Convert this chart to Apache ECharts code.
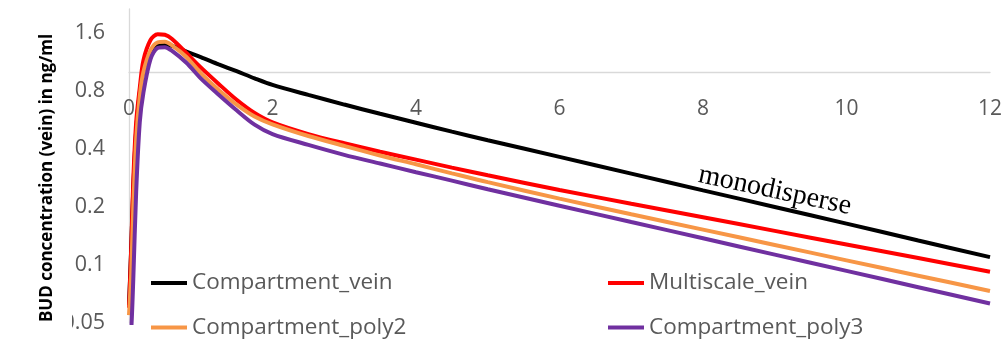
<!DOCTYPE html>
<html><head><meta charset="utf-8">
<script src="https://cdn.jsdelivr.net/npm/echarts@6/dist/echarts.min.js"></script>
<style>html,body{margin:0;padding:0;background:#fff}#c{width:1004px;height:339px}</style>
</head><body><div id="c"></div>
<script>
// time in hours
const times = [0, 0.03, 0.06, 0.1, 0.15, 0.2, 0.3, 0.4, 0.5, 0.6, 0.8, 1.0, 1.25, 1.5, 1.75, 2, 2.5, 3, 3.5, 4, 4.5, 5, 6, 7, 8, 9, 10, 11, 12];
// BUD concentration (vein) in ng/ml
const compartmentVein = [0.062, 0.12, 0.25, 0.5, 0.78, 1.02, 1.28, 1.39, 1.40, 1.37, 1.28, 1.20, 1.10, 1.013, 0.93, 0.86, 0.763, 0.68, 0.609, 0.547, 0.492, 0.444, 0.364, 0.298, 0.244, 0.20, 0.164, 0.134, 0.1098];
const multiscaleVein = [0.06, 0.12, 0.277, 0.55, 0.83, 1.15, 1.47, 1.575, 1.565, 1.49, 1.26, 1.06, 0.87, 0.72, 0.615, 0.55, 0.478, 0.428, 0.387, 0.352, 0.32, 0.292, 0.245, 0.208, 0.177, 0.1503, 0.1278, 0.1086, 0.0923];
const compartmentPoly2 = [0.055, 0.09, 0.2, 0.45, 0.75, 1.0, 1.3, 1.43, 1.44, 1.38, 1.2, 0.99, 0.81, 0.68, 0.59, 0.537, 0.467, 0.415, 0.37, 0.333, 0.299, 0.269, 0.221, 0.1834, 0.1526, 0.127, 0.1057, 0.088, 0.0733];
const compartmentPoly3 = [0.035, 0.045, 0.085, 0.24, 0.55, 0.78, 1.17, 1.34, 1.35, 1.29, 1.12, 0.93, 0.765, 0.635, 0.535, 0.478, 0.42, 0.373, 0.336, 0.303, 0.274, 0.247, 0.203, 0.167, 0.1376, 0.1132, 0.0932, 0.0767, 0.0631];
const seriesNames = ['Compartment_vein', 'Multiscale_vein', 'Compartment_poly2', 'Compartment_poly3'];
const seriesColors = ['#000000', '#FF0000', '#F79646', '#7030A0'];
const yTickLabels = [0.05, 0.1, 0.2, 0.4, 0.8, 1.6];
const xTickLabels = [0, 2, 4, 6, 8, 10, 12];
const yAxisMin = 0.05, yAxisMax = 2.13, xAxisCross = 1;
const yTitle = 'BUD concentration (vein) in ng/ml';
const annotation = { text: 'monodisperse', t: 9.0, conc: 0.243 };

const allValues = [compartmentVein, multiscaleVein, compartmentPoly2, compartmentPoly3];
// base-2 logarithmic axis (as the original), horizontal axis crossing at 1
const lg = v => Math.log2(v);
const GRID = { left: 129, right: 14, top: 9, bottom: 16 };
const W = 1004, H = 339;
const plotH = H - GRID.top - GRID.bottom;
const crossY = GRID.top + (lg(yAxisMax) - lg(xAxisCross)) / (lg(yAxisMax) - lg(yAxisMin)) * plotH;
const xAxisOffset = -((H - GRID.bottom) - crossY);

const chart = echarts.init(document.getElementById('c'), null, { renderer: 'canvas' });
const FONT = 'Open Sans';
const legendBase = {
  orient: 'vertical', padding: 0, itemGap: 21.5, itemWidth: 36, itemHeight: 4, icon: 'rect',
  textStyle: { color: '#595959', fontSize: 22.5, fontFamily: FONT, lineHeight: 22 }
};
const option = {
  backgroundColor: '#ffffff',
  animation: false,
  grid: Object.assign({ containLabel: false, outerBoundsMode: 'none' }, GRID),
  xAxis: {
    type: 'value', min: xTickLabels[0], max: xTickLabels[xTickLabels.length - 1], interval: 2,
    position: 'bottom', offset: xAxisOffset,
    axisLine: { show: true, onZero: false, lineStyle: { color: '#D9D9D9', width: 1.3 } },
    axisTick: { show: false },
    splitLine: { show: false },
    axisLabel: { color: '#595959', fontSize: 21, fontFamily: FONT, margin: 26 }
  },
  yAxis: {
    type: 'value', min: lg(yAxisMin), max: lg(yAxisMax), interval: 1,
    axisLine: { show: true, lineStyle: { color: '#D9D9D9', width: 1.3 } },
    axisTick: { show: false },
    splitLine: { show: false },
    axisLabel: {
      color: '#595959', fontSize: 21.5, fontFamily: FONT, margin: 24, showMaxLabel: false,
      padding: [8, 0, 0, 0],
      formatter: v => {
        const real = Math.pow(2, v);
        let best = yTickLabels[0];
        yTickLabels.forEach(t => { if (Math.abs(Math.log(t / real)) < Math.abs(Math.log(best / real))) best = t; });
        return String(best);
      }
    }
  },
  legend: [
    Object.assign({ left: 151, top: 271.5, data: [seriesNames[0], seriesNames[2]] }, legendBase),
    Object.assign({ left: 608, top: 271.5, data: [seriesNames[1], seriesNames[3]] }, legendBase)
  ],
  graphic: [
    {
      type: 'rect', z: 90, silent: true,
      shape: { x: 57, y: 313, width: 15, height: 26 },
      style: { fill: '#ffffff' }
    },
    {
      type: 'text', x: 47, y: 178, rotation: Math.PI / 2, z: 100,
      style: { text: yTitle, fill: '#000', font: 'bold 17px "Open Sans"', align: 'center', verticalAlign: 'middle' }
    }
  ],
  series: seriesNames.map((name, i) => ({
    name, type: 'line', showSymbol: false, symbol: 'none',
    smooth: 0.3, clip: true,
    lineStyle: { color: seriesColors[i], width: 4 },
    itemStyle: { color: seriesColors[i] },
    data: times.map((t, k) => [t, lg(allValues[i][k])]),
    markPoint: i === 0 ? {
      symbol: 'circle', symbolSize: 0, silent: true,
      data: [{ coord: [annotation.t, lg(annotation.conc)] }],
      label: { show: true, position: 'inside', formatter: annotation.text, rotate: -12,
        color: '#000', fontSize: 28, fontFamily: 'Liberation Serif' }
    } : undefined
  }))
};
chart.setOption(option);
</script></body></html>
